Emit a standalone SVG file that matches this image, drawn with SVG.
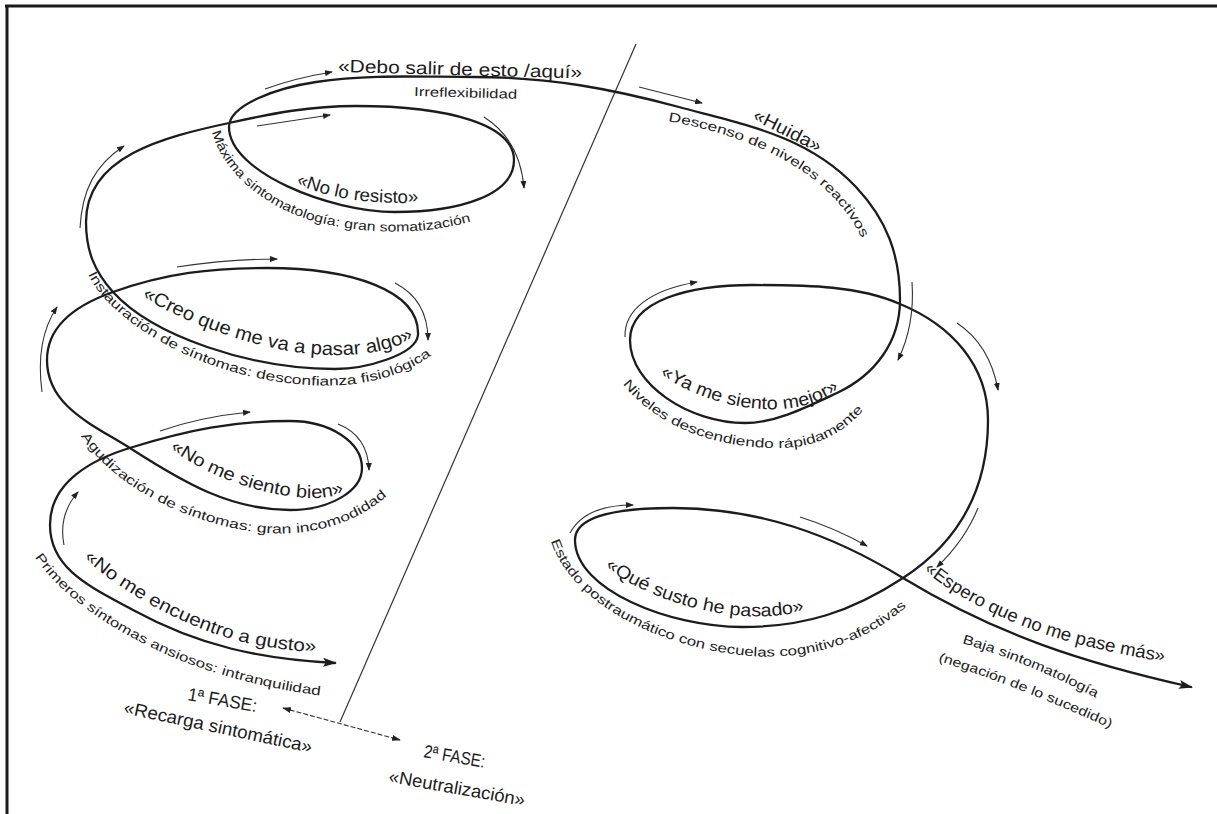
<svg xmlns="http://www.w3.org/2000/svg" width="1217" height="814" viewBox="0 0 1217 814">
<defs>
<style>
.main{fill:none;stroke:#1c1c1c;stroke-width:2.3;stroke-linecap:round;stroke-linejoin:round}
.sa{fill:none;stroke:#333;stroke-width:1.1;marker-end:url(#sm)}
.lbl{font-family:"Liberation Sans",Arial,sans-serif;font-size:18px;fill:#1c1c1c}
.sub{font-family:"Liberation Sans",Arial,sans-serif;font-size:13px;fill:#222}
</style>
<marker id="big" markerUnits="userSpaceOnUse" viewBox="0 0 14 10" markerWidth="14" markerHeight="10" refX="12" refY="5" orient="auto-start-reverse"><path d="M0,0.5 L14,5 L0,9.5 L3,5z" fill="#1c1c1c"/></marker>
<marker id="sm" markerUnits="userSpaceOnUse" viewBox="0 0 8 6" markerWidth="8" markerHeight="6" refX="7" refY="3" orient="auto"><path d="M0,0 L8,3 L0,6z" fill="#222"/></marker>
<marker id="dsm" markerUnits="userSpaceOnUse" viewBox="0 0 9 6" markerWidth="9" markerHeight="6" refX="8" refY="3" orient="auto-start-reverse"><path d="M0,0 L9,3 L0,6z" fill="#222"/></marker>
<path id="p-max" d="M212,132 C222,172 268,213 330,225 C390,237 455,233 502,209"/>
<path id="p-res" d="M296,184 Q350,207 426,202"/>
<path id="p-desc" d="M668,121 C760,138 838,175 868,252"/>
<path id="p-creo" d="M142,297 C202,332 282,357 342,355 C382,354 407,344 422,332"/>
<path id="p-inst" d="M88,274 C106,314 178,364 268,380 C343,394 405,381 441,347"/>
<path id="p-bien" d="M170,449 C207,475 257,495 307,498 C332,499 350,492 362,482"/>
<path id="p-agud" d="M81,436 C106,475 163,515 243,530 C303,541 358,525 392,491"/>
<path id="p-gusto" d="M84,558 C122,593 192,632 252,644 C287,651 307,652 327,652"/>
<path id="p-prim" d="M35,557 C65,604 138,646 198,667 C248,684 290,692 326,696"/>
<path id="p-ya" d="M660,375 C700,399 740,411 780,409 C810,407 832,397 847,382"/>
<path id="p-niv" d="M623,384 C655,426 715,448 778,448 C820,448 850,429 868,404"/>
<path id="p-que" d="M605,567 C640,593 690,612 745,616 C775,618 800,613 815,607"/>
<path id="p-est" d="M551,541 C567,593 640,643 740,655 C820,664 882,633 915,598"/>
<path id="p-esp" d="M924,570 C958,600 1018,628 1078,644 C1118,654 1150,660 1180,664"/>
<path id="p-baja" d="M962,643 Q1030,663 1100,700"/>
<path id="p-neg" d="M938,661 Q1020,687 1112,729"/>
</defs>
<rect width="1217" height="814" fill="#fff"/>
<g id="frame" stroke="#1a1a1a" stroke-width="3" fill="none">
<line x1="5" y1="6" x2="1217" y2="6"/>
<line x1="7" y1="5" x2="7" y2="814"/>
</g>
<g id="divider"><line x1="636" y1="44" x2="340" y2="722" stroke="#333" stroke-width="1.2"/></g>
<g id="connectors">
<path id="spiral" class="main" marker-start="url(#big)" marker-end="url(#big)" d="M335,663 C260,659 199,646 133,610 C93,588 50,570 50,525 C50,482 92,459 133,447 C188,430 233,421 290,421 C330,421 362,442 362,468 C362,491 330,510 290,510 C230,510 183,482 133,450 C94,425 47,407 47,360 C47,324 79,304 113,292 C166,273 211,268 267,268 C350,268 420,290 418,335 C416,355 365,369 335,369 C250,369 153,336 113,292 C94,271 86,250 86,222 C86,156 164,137 229,123 C274,113 310,106 356,106 C450,106 514,125 514,160 C514,195 460,212 395,212 C330,212 229,172 229,127 C229,105 276,88 316,82 C368,74 421,77 474,77 C550,77 612,89 679,107 C746,125 808,136 856,187 C887,220 900,255 900,300 C900,342 875,375 837,393 C805,408 775,423 745,423 C690,423 630,385 630,340 C630,300 690,285 753,285 C810,285 859,286 900,304 C951,325 988,365 988,420 C988,488 960,541 903,578 C851,612 804,627 742,627 C670,627 575,590 575,540 C575,515 620,508 673,508 C758,508 831,534 903,578 C997,635 1084,663 1191,687"/>
<path class="sa" d="M265,89 Q295,78 332,72"/>
<path class="sa" d="M257,126 L330,115"/>
<path class="sa" d="M484,117 Q520,140 524,188"/>
<path class="sa" d="M80,228 C82,190 95,165 124,146"/>
<path class="sa" d="M639,87 L702,103"/>
<path class="sa" d="M177,267 Q230,259 277,259"/>
<path class="sa" d="M395,283 Q428,300 428,340"/>
<path class="sa" d="M42,392 Q35,340 57,307"/>
<path class="sa" d="M160,431 Q200,417 250,412"/>
<path class="sa" d="M338,424 Q368,436 369,470"/>
<path class="sa" d="M64,545 Q58,515 78,492"/>
<path class="sa" d="M625,337 C624,310 650,290 697,282"/>
<path class="sa" d="M912,282 Q915,325 898,360"/>
<path class="sa" d="M957,323 Q990,345 998,390"/>
<path class="sa" d="M978,508 Q965,540 937,567"/>
<path class="sa" d="M800,517 Q835,528 867,546"/>
<path class="sa" d="M570,533 Q585,505 633,505"/>
<path d="M283,708 L400,740" fill="none" stroke="#333" stroke-width="1.1" stroke-dasharray="5 2" marker-start="url(#dsm)" marker-end="url(#dsm)"/>
</g>
<g id="n-debo"><text class="lbl" x="338" y="72" textLength="244" lengthAdjust="spacingAndGlyphs" transform="rotate(1.5 338 72)">«Debo salir de esto /aquí»</text>
<text class="sub" x="414" y="96" textLength="103" lengthAdjust="spacingAndGlyphs" transform="rotate(1.5 414 96)">Irreflexibilidad</text></g>
<g id="n-resisto"><text class="lbl"><textPath href="#p-res" textLength="125" lengthAdjust="spacingAndGlyphs">«No lo resisto»</textPath></text>
<text class="sub"><textPath href="#p-max" textLength="300" lengthAdjust="spacingAndGlyphs">Máxima sintomatología: gran somatización</textPath></text></g>
<g id="n-huida"><text class="lbl" x="752" y="119" textLength="74" lengthAdjust="spacingAndGlyphs" transform="rotate(27 752 119)">«Huida»</text>
<text class="sub"><textPath href="#p-desc" textLength="235" lengthAdjust="spacingAndGlyphs">Descenso de niveles reactivos</textPath></text></g>
<g id="n-creo"><text class="lbl" style="font-size:19px"><textPath href="#p-creo" textLength="285" lengthAdjust="spacingAndGlyphs">«Creo que me va a pasar algo»</textPath></text>
<text class="sub"><textPath href="#p-inst" textLength="385" lengthAdjust="spacingAndGlyphs">Instauración de síntomas: desconfianza fisiológica</textPath></text></g>
<g id="n-bien"><text class="lbl"><textPath href="#p-bien" textLength="185" lengthAdjust="spacingAndGlyphs">«No me siento bien»</textPath></text>
<text class="sub"><textPath href="#p-agud" textLength="345" lengthAdjust="spacingAndGlyphs">Agudización de síntomas: gran incomodidad</textPath></text></g>
<g id="n-gusto"><text class="lbl"><textPath href="#p-gusto" textLength="255" lengthAdjust="spacingAndGlyphs">«No me encuentro a gusto»</textPath></text>
<text class="sub"><textPath href="#p-prim" textLength="325" lengthAdjust="spacingAndGlyphs">Primeros síntomas ansiosos: intranquilidad</textPath></text></g>
<g id="n-fase1"><text class="lbl" x="187" y="700" textLength="70" lengthAdjust="spacingAndGlyphs" transform="rotate(10 187 700)">1ª FASE:</text>
<text class="lbl" x="123" y="713" textLength="192" lengthAdjust="spacingAndGlyphs" transform="rotate(12 123 713)">«Recarga sintomática»</text></g>
<g id="n-fase2"><text class="lbl" x="423" y="757" textLength="62" lengthAdjust="spacingAndGlyphs" transform="rotate(10 423 757)">2ª FASE:</text>
<text class="lbl" x="388" y="782" textLength="138" lengthAdjust="spacingAndGlyphs" transform="rotate(10 388 782)">«Neutralización»</text></g>
<g id="n-mejor"><text class="lbl"><textPath href="#p-ya" textLength="190" lengthAdjust="spacingAndGlyphs">«Ya me siento mejor»</textPath></text>
<text class="sub"><textPath href="#p-niv" textLength="270" lengthAdjust="spacingAndGlyphs">Niveles descendiendo rápidamente</textPath></text></g>
<g id="n-susto"><text class="lbl"><textPath href="#p-que" textLength="210" lengthAdjust="spacingAndGlyphs">«Qué susto he pasado»</textPath></text>
<text class="sub"><textPath href="#p-est" textLength="410" lengthAdjust="spacingAndGlyphs">Estado postraumático con secuelas cognitivo-afectivas</textPath></text></g>
<g id="n-espero"><text class="lbl"><textPath href="#p-esp" textLength="260" lengthAdjust="spacingAndGlyphs">«Espero que no me pase más»</textPath></text>
<text class="sub"><textPath href="#p-baja" textLength="145" lengthAdjust="spacingAndGlyphs">Baja sintomatología</textPath></text>
<text class="sub"><textPath href="#p-neg" textLength="185" lengthAdjust="spacingAndGlyphs">(negación de lo sucedido)</textPath></text></g>
</svg>
